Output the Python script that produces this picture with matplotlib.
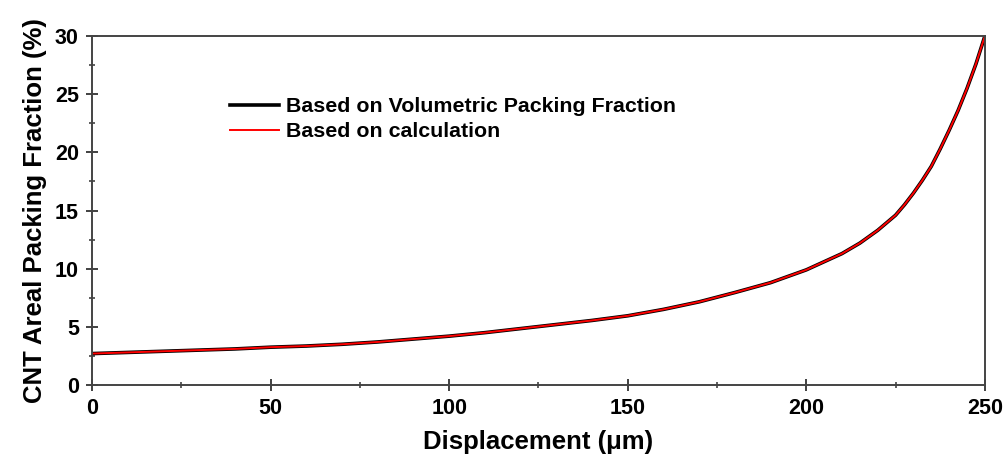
import matplotlib
matplotlib.use('Agg')
import matplotlib.pyplot as plt
from matplotlib.ticker import MultipleLocator

plt.rcParams['font.family'] = ['Liberation Sans', 'DejaVu Sans']
plt.rcParams['font.weight'] = 'bold'

# data
displacement = [0, 10, 20, 30, 40, 50, 60, 70, 80, 90, 100, 110, 120, 130, 140,
                150, 160, 170, 180, 190, 200, 210, 215, 220, 225, 227.5, 230, 232.5, 235,
                237.5, 240, 242.5, 245, 247.5, 250]
volumetric = [2.7, 2.8, 2.9, 3.0, 3.1, 3.25, 3.35, 3.5, 3.7, 3.95, 4.2, 4.5, 4.85, 5.2, 5.55,
              5.95, 6.5, 7.15, 7.95, 8.8, 9.9, 11.3, 12.2, 13.3, 14.6, 15.5, 16.5, 17.6, 18.8,
              20.3, 21.9, 23.6, 25.5, 27.6, 30.0]
calculation = [2.7, 2.8, 2.9, 3.0, 3.1, 3.25, 3.35, 3.5, 3.7, 3.95, 4.2, 4.5, 4.85, 5.2, 5.55,
               5.95, 6.5, 7.15, 7.95, 8.8, 9.9, 11.3, 12.2, 13.3, 14.6, 15.5, 16.5, 17.6, 18.8,
               20.3, 21.9, 23.6, 25.5, 27.6, 30.0]

fig = plt.figure(figsize=(10.07, 4.63), dpi=100)
ax = fig.add_axes([0.0914, 0.1685, 0.8866, 0.7535])

ax.plot(displacement, volumetric, color='black', lw=2.6, label='Based on Volumetric Packing Fraction')
ax.plot(displacement, calculation, color='red', lw=1.4, label='Based on calculation')

ax.set_xlim(0, 250)
ax.set_ylim(0, 30)
ax.xaxis.set_major_locator(MultipleLocator(50))
ax.xaxis.set_minor_locator(MultipleLocator(25))
ax.yaxis.set_major_locator(MultipleLocator(5))
ax.yaxis.set_minor_locator(MultipleLocator(2.5))
ax.tick_params(which='major', direction='inout', length=9, width=1.3, color='#333333', labelsize=15.5, pad=5)
ax.tick_params(which='minor', direction='inout', length=5, width=1.1, color='#333333')
for s in ax.spines.values():
    s.set_linewidth(1.4)
    s.set_color('#444444')

ax.set_xlabel('Displacement (μm)', fontsize=18.5, fontweight='bold', labelpad=8)
ax.set_ylabel('CNT Areal Packing Fraction (%)', fontsize=18.5, fontweight='bold', labelpad=6)

ax.legend(loc='upper left', bbox_to_anchor=(0.145, 0.85), frameon=False, fontsize=15.4,
          handlelength=2.3, handletextpad=0.3, labelspacing=0.3, borderaxespad=0)

fig.savefig('out.png', dpi=100)
